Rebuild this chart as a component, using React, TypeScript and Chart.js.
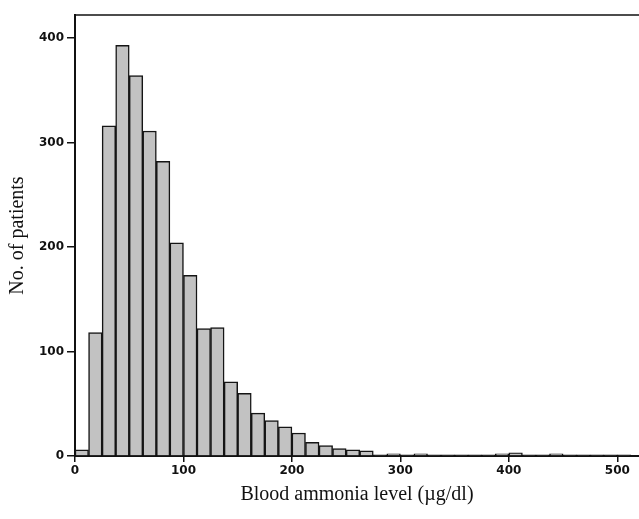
import React, { useEffect, useRef } from "react";
import { Chart, registerables } from "chart.js";

Chart.register(...registerables);

// Histogram bins of 12.5 µg/dl (bin starts)
const binWidth = 12.5;
const binStarts = [
  0, 12.5, 25, 37.5, 50, 62.5, 75, 87.5, 100, 112.5, 125, 137.5, 150, 162.5,
  175, 187.5, 200, 212.5, 225, 237.5, 250, 262.5, 275, 287.5, 300, 312.5, 325,
  337.5, 350, 362.5, 375, 387.5, 400, 412.5, 425, 437.5, 450, 462.5, 475, 487.5,
  500,
];
const patientCounts = [
  6, 118, 316, 393, 364, 311, 282, 204, 173, 122, 123, 71, 60, 41, 34, 28, 22,
  13, 10, 7, 6, 5, 1, 2, 1, 2, 1, 1, 1, 1, 1, 2, 3, 1, 1, 2, 1, 1, 1, 1, 1,
];
const xTickValues = [0, 100, 200, 300, 400, 500];
const yTickValues = [0, 100, 200, 300, 400];

const xTitle = "Blood ammonia level (\u00b5g/dl)";
const yTitle = "No. of patients";

export default function App() {
  const canvasRef = useRef<HTMLCanvasElement | null>(null);

  useEffect(() => {
    document.body.style.margin = "0";
    const canvas = canvasRef.current;
    if (!canvas) return;

    const points = binStarts.map((s, i) => ({ x: s + binWidth / 2, y: patientCounts[i] }));

    const topBorder = {
      id: "topBorder",
      afterDraw(chart: any) {
        const { ctx, chartArea } = chart;
        ctx.save();
        ctx.strokeStyle = "#111";
        ctx.lineWidth = 1.5;
        ctx.beginPath();
        ctx.moveTo(chartArea.left - 1, chartArea.top);
        ctx.lineTo(chartArea.right, chartArea.top);
        ctx.stroke();
        ctx.restore();
      },
    };

    const tickFont = { family: "'DejaVu Sans', sans-serif", size: 12, weight: "bold" as const };
    const titleFont = { family: "'Liberation Serif', 'Times New Roman', serif", size: 20 };

    const chart = new Chart(canvas, {
      type: "bar",
      data: {
        datasets: [
          {
            data: points,
            backgroundColor: "#c2c2c2",
            borderColor: "#151515",
            borderWidth: 1.5,
            barPercentage: 1,
            categoryPercentage: 1,
          },
        ],
      },
      options: {
        animation: false,
        responsive: true,
        maintainAspectRatio: false,
        layout: { padding: { top: 15, right: 0, left: 0, bottom: 0 } },
        plugins: { legend: { display: false }, tooltip: { enabled: false } },
        scales: {
          x: {
            type: "linear",
            min: 0,
            max: 520,
            offset: false,
            afterFit: (s: any) => {
              s.height = 63;
            },
            afterBuildTicks: (s: any) => {
              s.ticks = xTickValues.map((v) => ({ value: v }));
            },
            ticks: {
              font: tickFont,
              color: "#111",
              padding: 2,
              maxRotation: 0,
              autoSkip: false,
            },
            grid: {
              display: true,
              offset: false,
              drawOnChartArea: false,
              drawTicks: true,
              tickLength: 6,
              color: "#111",
              lineWidth: 1.5,
            },
            border: { display: true, color: "#111", width: 2 },
            title: {
              display: true,
              text: xTitle,
              font: titleFont,
              color: "#111",
              padding: { top: 4, bottom: 12 },
            },
          },
          y: {
            type: "linear",
            min: 0,
            max: 422,
            afterFit: (s: any) => {
              s.width = 75;
            },
            afterBuildTicks: (s: any) => {
              s.ticks = yTickValues.map((v) => ({ value: v }));
            },
            ticks: {
              font: tickFont,
              color: "#111",
              padding: 3,
            },
            grid: {
              display: true,
              drawOnChartArea: false,
              drawTicks: true,
              tickLength: 8,
              color: "#111",
              lineWidth: 1.5,
            },
            border: { display: true, color: "#111", width: 2 },
            title: {
              display: true,
              text: yTitle,
              font: titleFont,
              color: "#111",
              padding: { top: 6, bottom: 0 },
            },
          },
        },
      },
      plugins: [topBorder],
    });

    return () => chart.destroy();
  }, []);

  return (
    <div style={{ position: "fixed", left: 0, top: 0, width: 639, height: 519, background: "#fff" }}>
      <canvas ref={canvasRef} />
    </div>
  );
}
